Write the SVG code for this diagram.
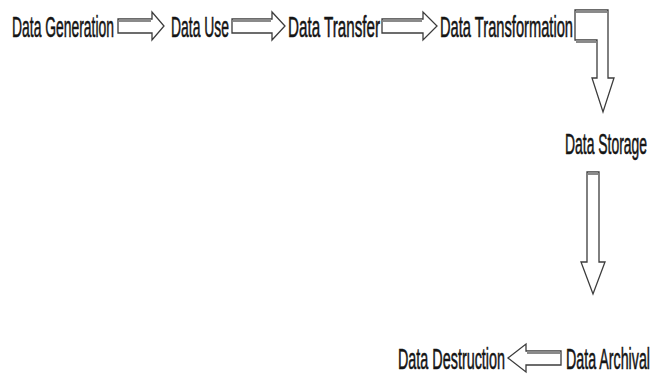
<svg xmlns="http://www.w3.org/2000/svg" width="653" height="387" viewBox="0 0 653 387">
  <style>
    .lbl { font-family: "Liberation Sans Narrow", "Liberation Sans", Arial, sans-serif; font-size: 18px; fill: #141414; stroke: #141414; stroke-width: 0.35; }
    .arrow { fill: #ffffff; stroke: #3c3c3c; stroke-width: 1.3; stroke-linejoin: miter; }
    .bevel { stroke: #8a8a8a; stroke-width: 3; fill: none; }
  </style>
  <rect width="653" height="387" fill="#ffffff"/>

  <!-- lifecycle stages: tall condensed labels (vertical stretch, fixed advance) -->
  <g id="data-generation">
    <text class="lbl" transform="translate(12,37) scale(1,1.6)" textLength="102" lengthAdjust="spacingAndGlyphs">Data Generation</text>
  </g>
  <g id="data-use">
    <text class="lbl" transform="translate(171,37) scale(1,1.6)" textLength="58" lengthAdjust="spacingAndGlyphs">Data Use</text>
  </g>
  <g id="data-transfer">
    <text class="lbl" transform="translate(288,37) scale(1,1.6)" textLength="92" lengthAdjust="spacingAndGlyphs">Data Transfer</text>
  </g>
  <g id="data-transformation">
    <text class="lbl" transform="translate(440,37) scale(1,1.6)" textLength="133" lengthAdjust="spacingAndGlyphs">Data Transformation</text>
  </g>
  <g id="data-storage">
    <text class="lbl" transform="translate(565,154) scale(1,1.6)" textLength="82" lengthAdjust="spacingAndGlyphs">Data Storage</text>
  </g>
  <g id="data-archival">
    <text class="lbl" transform="translate(566,369) scale(1,1.6)" textLength="84" lengthAdjust="spacingAndGlyphs">Data Archival</text>
  </g>
  <g id="data-destruction">
    <text class="lbl" transform="translate(398,369) scale(1,1.6)" textLength="107" lengthAdjust="spacingAndGlyphs">Data Destruction</text>
  </g>

  <!-- block arrows between stages -->
  <g id="connectors">
    <!-- Generation -> Use -->
    <path class="arrow" d="M118,19 H152 V12 L164,26 L152,40 V33 H118 Z"/>
    <path class="bevel" d="M119,20.5 H151"/>
    <!-- Use -> Transfer -->
    <path class="arrow" d="M232,19 H272 V12 L285,26 L272,40 V33 H232 Z"/>
    <path class="bevel" d="M233,20.5 H271"/>
    <!-- Transfer -> Transformation -->
    <path class="arrow" d="M382,19 H423 V12 L437,26 L423,40 V33 H382 Z"/>
    <path class="bevel" d="M383,20.5 H422"/>
    <!-- Transformation -> Storage (bent) -->
    <path class="arrow" d="M575,10 H608 V78 H614 L603,112 L592,78 H597 V40 H575 Z"/>
    <path class="bevel" d="M576,11.5 H607"/>
    <path class="bevel" d="M576,41.5 H596"/>
    <!-- Storage -> Archival -->
    <path class="arrow" d="M587,172 H599 V262 H605 L593,294 L581,262 H587 Z"/>
    <path class="bevel" d="M588,173.5 H598"/>
    <!-- Archival -> Destruction -->
    <path class="arrow" d="M561,351 H526 V344 L508,358 L526,372 V365 H561 Z"/>
    <path class="bevel" d="M560,352.5 H527"/>
  </g>
</svg>
